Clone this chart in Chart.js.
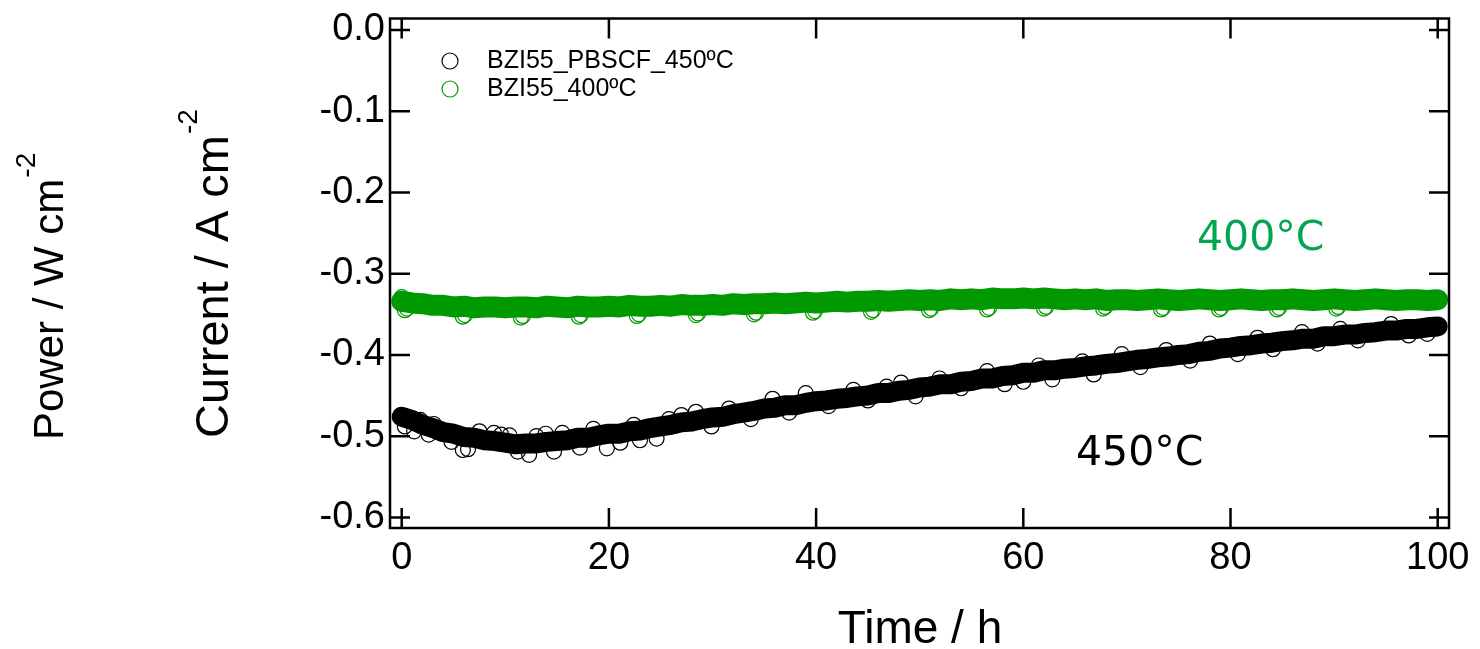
<!DOCTYPE html>
<html>
<head>
<meta charset="utf-8">
<title>Current vs time</title>
<script src="https://cdn.jsdelivr.net/npm/chart.js@4.4.0/dist/chart.umd.min.js"></script>
<style>
  html, body { margin: 0; padding: 0; background: #fff; }
  #wrap { width: 1480px; height: 649px; }
</style>
</head>
<body>
<div id="wrap"><canvas id="lineChart" width="1480" height="649"></canvas></div>
<script>
// ---- data ----
var hours = [0, 1, 2, 3, 4, 5, 6, 7, 8, 9, 10, 11, 12, 13, 14, 15, 16, 17, 18, 19,
  20, 21, 22, 23, 24, 25, 26, 27, 28, 29, 30, 31, 32, 33, 34, 35, 36, 37, 38, 39,
  40, 41, 42, 43, 44, 45, 46, 47, 48, 49, 50, 51, 52, 53, 54, 55, 56, 57, 58, 59,
  60, 61, 62, 63, 64, 65, 66, 67, 68, 69, 70, 71, 72, 73, 74, 75, 76, 77, 78, 79,
  80, 81, 82, 83, 84, 85, 86, 87, 88, 89, 90, 91, 92, 93, 94, 95, 96, 97, 98, 99, 100];

// BZI55_PBSCF_450ºC, main band
var current450 = [-0.476, -0.480, -0.486, -0.490, -0.495, -0.497, -0.501, -0.502, -0.505, -0.506,
  -0.508, -0.510, -0.509, -0.509, -0.507, -0.506, -0.505, -0.502, -0.502, -0.499,
  -0.497, -0.497, -0.494, -0.493, -0.490, -0.488, -0.486, -0.483, -0.482, -0.479,
  -0.477, -0.476, -0.473, -0.471, -0.469, -0.466, -0.465, -0.462, -0.462, -0.459,
  -0.457, -0.456, -0.454, -0.453, -0.451, -0.450, -0.447, -0.447, -0.444, -0.443,
  -0.440, -0.439, -0.436, -0.436, -0.433, -0.432, -0.429, -0.429, -0.426, -0.425,
  -0.422, -0.422, -0.419, -0.419, -0.417, -0.416, -0.414, -0.413, -0.411, -0.410,
  -0.408, -0.406, -0.405, -0.403, -0.402, -0.400, -0.399, -0.396, -0.395, -0.392,
  -0.391, -0.389, -0.388, -0.386, -0.385, -0.383, -0.382, -0.380, -0.380, -0.377,
  -0.377, -0.375, -0.375, -0.373, -0.372, -0.370, -0.370, -0.368, -0.368, -0.366, -0.365];

// BZI55_400ºC, main band
var current400 = [-0.334, -0.336, -0.337, -0.339, -0.339, -0.341, -0.340, -0.342, -0.341, -0.341,
  -0.342, -0.341, -0.341, -0.342, -0.340, -0.341, -0.342, -0.340, -0.341, -0.341,
  -0.340, -0.341, -0.339, -0.340, -0.340, -0.339, -0.340, -0.338, -0.339, -0.339,
  -0.338, -0.339, -0.337, -0.338, -0.337, -0.337, -0.336, -0.337, -0.336, -0.335,
  -0.336, -0.335, -0.334, -0.335, -0.334, -0.334, -0.333, -0.334, -0.333, -0.332,
  -0.333, -0.332, -0.333, -0.331, -0.332, -0.331, -0.332, -0.330, -0.331, -0.331,
  -0.330, -0.331, -0.330, -0.331, -0.332, -0.331, -0.332, -0.331, -0.333, -0.332,
  -0.332, -0.333, -0.332, -0.331, -0.332, -0.333, -0.332, -0.331, -0.332, -0.333,
  -0.332, -0.331, -0.332, -0.333, -0.332, -0.332, -0.331, -0.332, -0.333, -0.332,
  -0.331, -0.332, -0.333, -0.332, -0.331, -0.332, -0.333, -0.332, -0.332, -0.333, -0.332];

// stray points outside the bands
var scatter450x = [0.3, 1.2, 1.8, 2.6, 3.1, 4.8, 5.9, 6.4, 7.5, 8.9, 9.6, 10.4, 11.2, 12.3, 13.0,
  13.9, 14.7, 15.5, 17.2, 18.5, 19.8, 21.1, 22.4, 23.0, 24.6, 25.8, 27.0, 28.4, 29.9, 31.6,
  33.7, 35.8, 37.4, 39.0, 41.2, 43.6, 45.0, 46.8, 48.2, 49.6, 51.9, 54.0, 56.5, 58.2, 60.0,
  61.5, 62.8, 65.7, 66.8, 69.5, 71.3, 73.8, 76.1, 78.0, 80.7, 82.6, 84.1, 86.9, 88.4,
  90.6, 92.3, 95.5, 97.2, 99.0];
var scatter450y = [-0.488, -0.494, -0.480, -0.498, -0.485, -0.507, -0.517, -0.516, -0.494, -0.496,
  -0.498, -0.499, -0.519, -0.523, -0.500, -0.497, -0.519, -0.496, -0.514, -0.491,
  -0.515, -0.508, -0.486, -0.505, -0.503, -0.479, -0.474, -0.470, -0.488, -0.466,
  -0.479, -0.454, -0.471, -0.447, -0.463, -0.443, -0.456, -0.439, -0.434, -0.451,
  -0.429, -0.441, -0.420, -0.436, -0.433, -0.413, -0.430, -0.408, -0.424, -0.399,
  -0.415, -0.394, -0.407, -0.386, -0.399, -0.379, -0.393, -0.372, -0.386, -0.368,
  -0.382, -0.362, -0.376, -0.374];

var scatter400x = [0.0, 0.3, 0.5, 5.9, 6.1, 11.5, 11.7, 17.1, 17.3, 22.7, 22.9, 28.4, 28.6,
  34.0, 34.2, 39.7, 39.9, 45.3, 45.5, 50.9, 51.1, 56.5, 56.7, 62.0, 62.2, 67.7, 67.9,
  73.3, 73.5, 78.9, 79.1, 84.5, 84.7, 90.2, 90.4];
var scatter400y = [-0.329, -0.345, -0.343, -0.353, -0.351, -0.354, -0.352, -0.353, -0.351,
  -0.352, -0.350, -0.351, -0.349, -0.350, -0.348, -0.348, -0.346, -0.347, -0.345,
  -0.345, -0.343, -0.344, -0.342, -0.343, -0.341, -0.343, -0.341, -0.344, -0.342,
  -0.344, -0.342, -0.344, -0.342, -0.343, -0.341];

var xTicks = [0, 20, 40, 60, 80, 100];
var yTicks = [0, -0.1, -0.2, -0.3, -0.4, -0.5, -0.6];

var BLACK = "#000000";
var GREEN = "#009900";
var GREEN_TEXT = "#00a651";

function pairs(xs, ys) {
  return xs.map(function (x, i) { return { x: x, y: ys[i] }; });
}

// frame with inward ticks, legend, axis titles and labels
var decorPlugin = {
  id: "decor",
  afterDraw: function (chart) {
    var ctx = chart.ctx;
    var a = chart.chartArea;
    var xs = chart.scales.x;
    var ys = chart.scales.y;
    ctx.save();

    // box + ticks
    ctx.strokeStyle = BLACK;
    ctx.lineWidth = 2.5;
    ctx.strokeRect(a.left, a.top, a.right - a.left, a.bottom - a.top);
    ctx.beginPath();
    xTicks.forEach(function (v) {
      var px = xs.getPixelForValue(v);
      ctx.moveTo(px, a.bottom); ctx.lineTo(px, a.bottom - 20);
      ctx.moveTo(px, a.top); ctx.lineTo(px, a.top + 20);
    });
    yTicks.forEach(function (v) {
      var py = ys.getPixelForValue(v);
      ctx.moveTo(a.left, py); ctx.lineTo(a.left + 20, py);
      ctx.moveTo(a.right, py); ctx.lineTo(a.right - 20, py);
    });
    ctx.stroke();

    // legend
    var legend = [
      { label: "BZI55_PBSCF_450ºC", color: BLACK },
      { label: "BZI55_400ºC", color: GREEN }
    ];
    ctx.font = "25px 'Liberation Sans', Arial, sans-serif";
    ctx.textAlign = "left";
    ctx.textBaseline = "alphabetic";
    legend.forEach(function (item, i) {
      var cy = 61 + i * 28;
      ctx.beginPath();
      ctx.arc(450, cy, 8, 0, Math.PI * 2);
      ctx.lineWidth = 1.2;
      ctx.strokeStyle = item.color;
      ctx.stroke();
      ctx.fillStyle = BLACK;
      ctx.fillText(item.label, 487, cy + 7);
    });

    // temperature labels
    ctx.font = "41px 'DejaVu Sans', sans-serif";
    ctx.fillStyle = GREEN_TEXT;
    ctx.fillText("400°C", 1197, 250);
    ctx.fillStyle = BLACK;
    ctx.fillText("450°C", 1076, 465);

    // x title
    ctx.font = "46px 'Liberation Sans', Arial, sans-serif";
    ctx.textAlign = "center";
    ctx.fillText("Time / h", 920, 643);

    // y titles, rotated, with superscripts
    function vTitle(text, x, y, size, supSize, rise) {
      ctx.save();
      ctx.translate(x, y);
      ctx.rotate(-Math.PI / 2);
      ctx.textAlign = "left";
      ctx.font = size + "px 'Liberation Sans', Arial, sans-serif";
      ctx.fillText(text, 0, 0);
      var w = ctx.measureText(text).width;
      ctx.font = supSize + "px 'Liberation Sans', Arial, sans-serif";
      ctx.fillText("-2", w + 1, -rise);
      ctx.restore();
    }
    vTitle("Current / A cm", 228, 438, 47, 28, 31);
    vTitle("Power / W cm", 63, 440, 42, 28, 28);

    ctx.restore();
  }
};

var ctx = document.getElementById("lineChart").getContext("2d");
var tickFont = { family: "'Liberation Sans', Arial, sans-serif", size: 38 };

var lineChart = new Chart(ctx, {
  type: "scatter",
  data: {
    datasets: [
      {
        label: "BZI55_PBSCF_450ºC",
        data: pairs(hours, current450),
        showLine: true,
        borderColor: BLACK,
        borderWidth: 20,
        borderCapStyle: "round",
        borderJoinStyle: "round",
        pointRadius: 7.5,
        pointBorderWidth: 1.2,
        pointBorderColor: BLACK,
        pointBackgroundColor: "rgba(0,0,0,0)"
      },
      {
        label: "450 stray",
        data: pairs(scatter450x, scatter450y),
        pointRadius: 7.5,
        pointBorderWidth: 1.2,
        pointBorderColor: BLACK,
        pointBackgroundColor: "rgba(0,0,0,0)"
      },
      {
        label: "BZI55_400ºC",
        data: pairs(hours, current400),
        showLine: true,
        borderColor: GREEN,
        borderWidth: 21,
        borderCapStyle: "round",
        borderJoinStyle: "round",
        pointRadius: 7.5,
        pointBorderWidth: 1.2,
        pointBorderColor: GREEN,
        pointBackgroundColor: "rgba(0,0,0,0)"
      },
      {
        label: "400 stray",
        data: pairs(scatter400x, scatter400y),
        pointRadius: 7.5,
        pointBorderWidth: 1.2,
        pointBorderColor: GREEN,
        pointBackgroundColor: "rgba(0,0,0,0)"
      }
    ]
  },
  options: {
    responsive: false,
    animation: false,
    devicePixelRatio: 1,
    layout: { padding: { top: 18.5, right: 31, left: 0, bottom: 0 } },
    plugins: {
      legend: { display: false },
      tooltip: { enabled: false }
    },
    scales: {
      x: {
        type: "linear",
        min: -1.13,
        max: 101.09,
        grid: { display: false, drawTicks: false },
        border: { display: false },
        ticks: { font: tickFont, color: BLACK, padding: 8, autoSkip: false, maxRotation: 0 },
        afterBuildTicks: function (scale) {
          scale.ticks = xTicks.map(function (v) { return { value: v }; });
        },
        afterFit: function (scale) {
          scale.height = 121;
          scale.paddingLeft = 0;
          scale.paddingRight = 0;
        }
      },
      y: {
        type: "linear",
        min: -0.613,
        max: 0.014,
        grid: { display: false, drawTicks: false },
        border: { display: false },
        ticks: {
          font: tickFont,
          color: BLACK,
          padding: 5,
          autoSkip: false,
          callback: function (v) { return Number(v).toFixed(1); }
        },
        afterBuildTicks: function (scale) {
          scale.ticks = yTicks.map(function (v) { return { value: v }; });
        },
        afterFit: function (scale) {
          scale.width = 390;
          scale.paddingTop = 0;
          scale.paddingBottom = 0;
        }
      }
    }
  },
  plugins: [decorPlugin]
});
</script>
</body>
</html>
